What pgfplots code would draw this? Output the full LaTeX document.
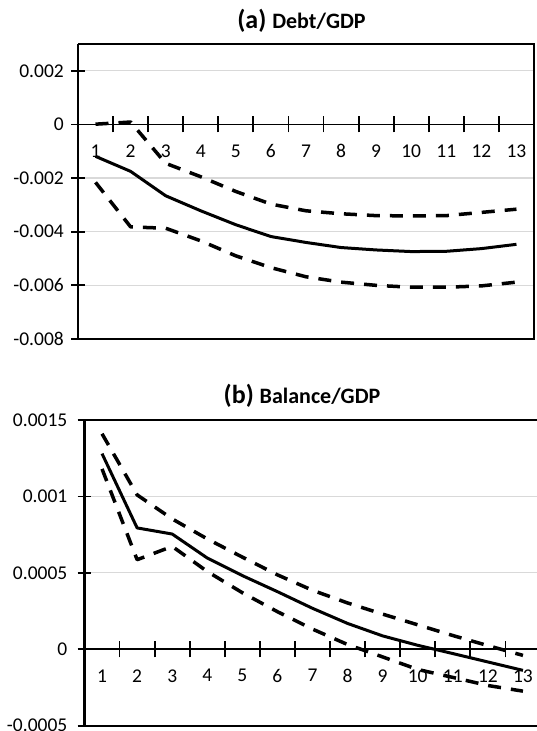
\documentclass[border=0pt]{standalone}
\usepackage{fontspec}
\setmainfont{Carlito}
\usepackage{pgfplots}
\pgfplotsset{compat=1.18}
\definecolor{gridgray}{RGB}{217,217,217}

\pgfplotsset{
  excelpanel/.style={
    scale only axis,
    xmin=0.5, xmax=13.5,
    axis x line*=middle, axis y line*=left,
    x axis line style={black, line width=1.8pt},
    y axis line style={black, line width=2.6pt},
    xtick={1,2,3,4,5,6,7,8,9,10,11,12,13},
    xticklabels={1,2,3,4,5,6,7,8,9,10,11,12,13},
    minor xtick={1.5,2.5,3.5,4.5,5.5,6.5,7.5,8.5,9.5,10.5,11.5,12.5},
    scaled y ticks=false,
    tick align=center,
    major tick length=14pt, minor tick length=16pt,
    tick style={black, line width=1.8pt},
    major x tick style={draw=none},
    ymajorgrids, major grid style={draw=gridgray, line width=1.2pt},
    tick label style={font=\fontsize{19.5}{19.5}\selectfont},
    xticklabel style={inner sep=0pt, anchor=north, yshift=-13pt},
    yticklabel style={inner sep=0pt, anchor=east},
    clip=false,
  },
  meanline/.style={black, line width=3pt, line join=round, mark=none},
  bandline/.style={black, line width=3.5pt, dash pattern=on 13pt off 10pt, line join=round, mark=none},
}

\begin{document}
\begin{tikzpicture}[x=1pt,y=1pt]
\useasboundingbox (0,0) rectangle (537,731);

% ---------- Panel (a) ----------
\begin{axis}[excelpanel,
  at={(78pt,392pt)}, anchor=south west,
  width=456pt, height=295pt,
  ymin=-0.008, ymax=0.003,
  ytick={-0.008,-0.006,-0.004,-0.002,0,0.002},
  yticklabels={-0.008,-0.006,-0.004,-0.002,0,0.002},
  yticklabel style={xshift=-7pt},
]
\draw[black, line width=1.6pt] (rel axis cs:0,1) -- (rel axis cs:1,1) -- (rel axis cs:1,0) -- (rel axis cs:0,0);
\addplot[meanline] coordinates {
 (1,-0.00119) (2,-0.00175) (3,-0.00266) (4,-0.00322) (5,-0.00374) (6,-0.00418) (7,-0.00440)
 (8,-0.00459) (9,-0.00468) (10,-0.00474) (11,-0.00473) (12,-0.00463) (13,-0.00447)};
\addplot[bandline] coordinates {
 (1,0.00001) (2,0.00009) (3,-0.00145) (4,-0.00195) (5,-0.00250) (6,-0.00297) (7,-0.00322)
 (8,-0.00333) (9,-0.00340) (10,-0.00341) (11,-0.00340) (12,-0.00328) (13,-0.00316)};
\addplot[bandline] coordinates {
 (1,-0.00216) (2,-0.00382) (3,-0.00387) (4,-0.00434) (5,-0.00490) (6,-0.00534) (7,-0.00568)
 (8,-0.00588) (9,-0.00600) (10,-0.00607) (11,-0.00607) (12,-0.00602) (13,-0.00588)};
\end{axis}

% ---------- Panel (b) ----------
\begin{axis}[excelpanel,
  at={(84.5pt,5.3pt)}, anchor=south west,
  width=456pt, height=305.7pt,
  ymin=-0.0005, ymax=0.0015,
  ytick={-0.0005,0,0.0005,0.001,0.0015},
  yticklabels={-0.0005,0,0.0005,0.001,0.0015},
  yticklabel style={xshift=-10pt},
]
\draw[black, line width=1.6pt] (rel axis cs:0,1) -- (rel axis cs:1,1) -- (rel axis cs:1,0) -- (rel axis cs:0,0);
\addplot[meanline] coordinates {
 (1,0.00128) (2,0.000794) (3,0.000754) (4,0.000597) (5,0.000482) (6,0.000377) (7,0.000268)
 (8,0.000169) (9,0.0000875) (10,0.000026) (11,-0.000028) (12,-0.000083) (13,-0.000138)};
\addplot[bandline] coordinates {
 (1,0.00141) (2,0.00101) (3,0.000853) (4,0.000722) (5,0.000603) (6,0.000487) (7,0.000386)
 (8,0.000303) (9,0.000230) (10,0.000160) (11,0.000090) (12,0.000024) (13,-0.000040)};
\addplot[bandline] coordinates {
 (1,0.00118) (2,0.000586) (3,0.000673) (4,0.000509) (5,0.000370) (6,0.000246) (7,0.000132)
 (8,0.000031) (9,-0.000050) (10,-0.000132) (11,-0.000184) (12,-0.000237) (13,-0.000274)};
\end{axis}

% ---------- Titles ----------
\node[anchor=base, inner sep=0pt] at (301.5,702.7)
  {\bfseries\fontsize{26}{26}\selectfont (a)\ \fontsize{22}{22}\selectfont Debt/GDP};
\node[anchor=base, inner sep=0pt] at (302,327.7)
  {\bfseries\fontsize{26}{26}\selectfont (b)\ \fontsize{22}{22}\selectfont Balance/GDP};
\end{tikzpicture}
\end{document}
